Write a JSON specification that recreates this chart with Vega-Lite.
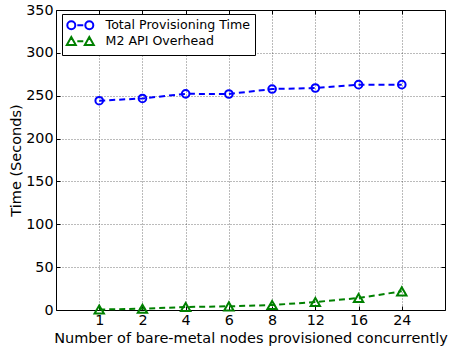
{
  "$schema": "https://vega.github.io/schema/vega-lite/v6.json",
  "width": 389,
  "height": 300,
  "autosize": "none",
  "padding": {"left": 56, "top": 10, "right": 8, "bottom": 41},
  "background": "white",
  "config": {
    "font": "DejaVu Sans",
    "view": {"stroke": "black", "strokeWidth": 1},
    "axis": {
      "labelFont": "DejaVu Sans",
      "titleFont": "DejaVu Sans",
      "labelFontSize": 14.3,
      "titleFontSize": 14.5,
      "titleFontWeight": "normal",
      "labelColor": "black",
      "titleColor": "black",
      "domain": false,
      "tickColor": "black",
      "tickSize": -4,
      "tickWidth": 1,
      "gridColor": "black",
      "gridDash": [1, 2],
      "gridWidth": 0.6,
      "gridOpacity": 0.9
    }
  },
  "data": {
    "values": [
      {"nodes": 1, "series": "Total Provisioning Time", "time": 244.2},
      {"nodes": 2, "series": "Total Provisioning Time", "time": 246.8},
      {"nodes": 4, "series": "Total Provisioning Time", "time": 252.2},
      {"nodes": 6, "series": "Total Provisioning Time", "time": 252.0},
      {"nodes": 8, "series": "Total Provisioning Time", "time": 257.8},
      {"nodes": 12, "series": "Total Provisioning Time", "time": 259.0},
      {"nodes": 16, "series": "Total Provisioning Time", "time": 262.9},
      {"nodes": 24, "series": "Total Provisioning Time", "time": 262.9},
      {"nodes": 1, "series": "M2 API Overhead", "time": 0.6},
      {"nodes": 2, "series": "M2 API Overhead", "time": 1.5},
      {"nodes": 4, "series": "M2 API Overhead", "time": 3.5},
      {"nodes": 6, "series": "M2 API Overhead", "time": 4.3},
      {"nodes": 8, "series": "M2 API Overhead", "time": 5.8},
      {"nodes": 12, "series": "M2 API Overhead", "time": 9.3},
      {"nodes": 16, "series": "M2 API Overhead", "time": 14.0},
      {"nodes": 24, "series": "M2 API Overhead", "time": 21.8}
    ]
  },
  "layer": [
    {
      "mark": {"type": "line", "strokeDash": [6, 4], "strokeWidth": 2},
      "encoding": {
        "x": {
          "field": "nodes",
          "type": "ordinal",
          "scale": {"type": "point", "padding": 1},
          "axis": {
            "orient": "bottom",
            "labelAngle": 0,
            "grid": true,
            "labelPadding": 7,
            "title": "Number of bare-metal nodes provisioned concurrently",
            "titlePadding": 4
          }
        },
        "y": {
          "field": "time",
          "type": "quantitative",
          "scale": {"domain": [0, 350], "nice": false, "zero": true},
          "axis": {
            "orient": "left",
            "values": [0, 50, 100, 150, 200, 250, 300, 350],
            "grid": true,
            "labelPadding": 7,
            "title": "Time (Seconds)",
            "titlePadding": 2
          }
        },
        "color": {
          "field": "series",
          "type": "nominal",
          "scale": {"domain": ["Total Provisioning Time", "M2 API Overhead"], "range": ["#0000ff", "#008000"]},
          "legend": null
        }
      }
    },
    {
      "mark": {"type": "point", "filled": false, "strokeWidth": 2, "opacity": 1},
      "encoding": {
        "x": {
          "field": "nodes",
          "type": "ordinal",
          "axis": {"orient": "top", "labels": false, "grid": false, "title": null}
        },
        "y": {
          "field": "time",
          "type": "quantitative",
          "axis": {"orient": "right", "labels": false, "grid": false, "title": null, "values": [0, 50, 100, 150, 200, 250, 300, 350]}
        },
        "color": {
          "field": "series",
          "type": "nominal",
          "scale": {"domain": ["Total Provisioning Time", "M2 API Overhead"], "range": ["#0000ff", "#008000"]},
          "legend": null
        },
        "shape": {
          "field": "series",
          "type": "nominal",
          "scale": {"domain": ["Total Provisioning Time", "M2 API Overhead"], "range": ["circle", "triangle-up"]},
          "legend": null
        },
        "size": {
          "field": "series",
          "type": "nominal",
          "scale": {"domain": ["Total Provisioning Time", "M2 API Overhead"], "range": [58, 88]},
          "legend": null
        }
      }
    },
    {
      "mark": {"type": "point", "filled": false, "opacity": 0},
      "encoding": {
        "x": {"field": "nodes", "type": "ordinal", "axis": null},
        "y": {"field": "time", "type": "quantitative", "axis": null},
        "color": {
          "field": "series",
          "type": "nominal",
          "scale": {"domain": ["Total Provisioning Time", "M2 API Overhead"], "range": ["#0000ff", "#008000"]},
          "legend": {
            "title": null,
            "orient": "none",
            "legendX": 6,
            "legendY": 4,
            "padding": 5,
            "strokeColor": "black",
            "fillColor": "white",
            "symbolSize": 100,
            "symbolStrokeWidth": 2,
            "symbolOpacity": 1,
            "symbolOffset": 7,
            "labelFont": "DejaVu Sans",
            "labelFontSize": 12.6,
            "labelColor": "black",
            "labelOffset": 19,
            "rowPadding": -1
          }
        },
        "shape": {
          "field": "series",
          "type": "nominal",
          "scale": {
            "domain": ["Total Provisioning Time", "M2 API Overhead"],
            "range": [
              "M-2.6,0A0.8,0.8,0,1,0,-1,0A0.8,0.8,0,1,0,-2.6,0M-0.6,0L0.6,0M1,0A0.8,0.8,0,1,0,2.6,0A0.8,0.8,0,1,0,1,0",
              "M-1.8,-0.85L-2.7,0.75L-0.9,0.75ZM-0.6,0L0.6,0M1.8,-0.85L0.9,0.75L2.7,0.75Z"
            ]
          },
          "legend": {
            "title": null,
            "orient": "none",
            "legendX": 6,
            "legendY": 4
          }
        }
      }
    }
  ],
  "resolve": {
    "scale": {"color": "independent", "shape": "independent", "size": "independent"},
    "axis": {"x": "independent", "y": "independent"}
  }
}
